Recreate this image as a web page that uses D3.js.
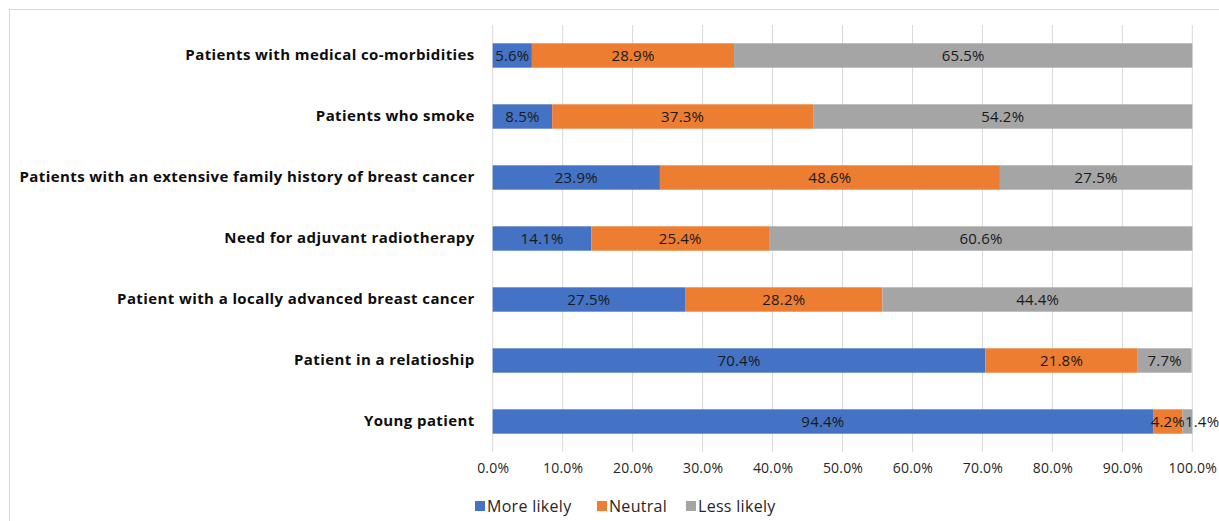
<!DOCTYPE html>
<html>
<head>
<meta charset="utf-8">
<script src="https://cdn.jsdelivr.net/npm/d3@7"></script>
<style>
  body { margin: 0; background: #fff; }
  svg { display: block; font-family: "Open Sans", sans-serif; }
</style>
</head>
<body>
<svg id="chart" width="1219" height="521"></svg>
<script>
// chart data, top row first
const categories = [
    "Patients with medical co-morbidities",
    "Patients who smoke",
    "Patients with an extensive family history of breast cancer",
    "Need for adjuvant radiotherapy",
    "Patient with a locally advanced breast cancer",
    "Patient in a relatioship",
    "Young patient"
];
const seriesNames = ["More likely", "Neutral", "Less likely"];
const moreLikely = [5.6, 8.5, 23.9, 14.1, 27.5, 70.4, 94.4];
const neutral = [28.9, 37.3, 48.6, 25.4, 28.2, 21.8, 4.2];
const lessLikely = [65.5, 54.2, 27.5, 60.6, 44.4, 7.7, 1.4];
const xTicks = [0, 10, 20, 30, 40, 50, 60, 70, 80, 90, 100];
const colors = ["#4472C4", "#ED7D31", "#A5A5A5"];

let svg = d3.select("#chart");

// outer frame
svg.append("rect")
    .attr("x", 9.5).attr("y", 9.5)
    .attr("width", 1240).attr("height", 540)
    .attr("fill", "none")
    .attr("stroke", "#d9d9d9");

let x = d3.scaleLinear().domain([0, 100]).range([492.7, 1192.3]);
let y = d3.scaleBand().domain(categories).range([25, 452]).paddingInner(0.6).paddingOuter(0.3);

// vertical gridlines
svg.append("g")
    .selectAll("line")
    .data(xTicks)
    .enter().append("line")
    .attr("x1", d => x(d)).attr("x2", d => x(d))
    .attr("y1", 25).attr("y2", 452)
    .attr("stroke", "#d9d9d9")
    .attr("stroke-width", 1);

// x axis labels
let xAxis = d3.axisBottom(x).tickValues(xTicks).tickSize(0).tickPadding(0)
    .tickFormat(d => d.toFixed(1) + "%");
let gx = svg.append("g").attr("transform", "translate(0,463)").call(xAxis);
gx.select(".domain").remove();
gx.selectAll("text")
    .attr("font-family", "'Open Sans', sans-serif")
    .attr("font-size", 14)
    .attr("letter-spacing", 0.2)
    .attr("fill", "#262626");

// category labels
let yAxis = d3.axisLeft(y).tickSize(0).tickPadding(18);
let gy = svg.append("g").attr("transform", "translate(492.7,0)").call(yAxis);
gy.select(".domain").remove();
gy.selectAll("text")
    .attr("font-family", "'Open Sans', sans-serif")
    .attr("font-size", 15)
    .attr("letter-spacing", 0.4)
    .attr("font-weight", "bold")
    .attr("fill", "#0d0d0d");

// stacked segments
let rows = categories.map((c, i) => ({
    cat: c,
    "More likely": moreLikely[i],
    "Neutral": neutral[i],
    "Less likely": lessLikely[i]
}));
let stacked = d3.stack().keys(seriesNames)(rows);

let layers = svg.append("g")
    .selectAll("g")
    .data(stacked)
    .enter().append("g")
    .attr("fill", (d, i) => colors[i]);

layers.selectAll("rect")
    .data(d => d)
    .enter().append("rect")
    .attr("x", d => x(d[0]))
    .attr("y", d => y(d.data.cat))
    .attr("width", d => x(Math.min(d[1], 100)) - x(d[0]))
    .attr("height", y.bandwidth());

// data labels, drawn in one layer so we can nudge crowded ones
let labelLayer = svg.append("g");
categories.forEach((cat, row) => {
    let prevRight = -Infinity;
    stacked.forEach(series => {
        let seg = series[row];
        let t = labelLayer.append("text")
            .attr("x", (x(seg[0]) + x(seg[1])) / 2)
            .attr("y", y(cat) + y.bandwidth() / 2)
            .attr("dy", "0.36em")
            .attr("text-anchor", "middle")
            .attr("font-size", 15)
            .attr("letter-spacing", 0.2)
            .attr("fill", "#1a1a1a")
            .text(seg.data[series.key].toFixed(1) + "%");
        let w = t.node().getComputedTextLength();
        let cx = +t.attr("x");
        // push right if it would run into the previous label
        if (cx - w / 2 < prevRight) {
            cx = prevRight + w / 2;
            t.attr("x", cx);
        }
        prevRight = cx + w / 2;
    });
});

// legend
let legendX = [475, 597, 686];
let legend = svg.append("g")
    .selectAll("g")
    .data(seriesNames)
    .enter().append("g")
    .attr("transform", (d, i) => "translate(" + legendX[i] + ",501)");

legend.append("rect")
    .attr("width", 10).attr("height", 10)
    .attr("fill", (d, i) => colors[i]);

legend.append("text")
    .attr("x", 12).attr("y", 5)
    .attr("dy", "0.35em")
    .attr("font-size", 16)
    .attr("letter-spacing", 0.3)
    .attr("fill", "#262626")
    .text(d => d);
</script>
</body>
</html>
